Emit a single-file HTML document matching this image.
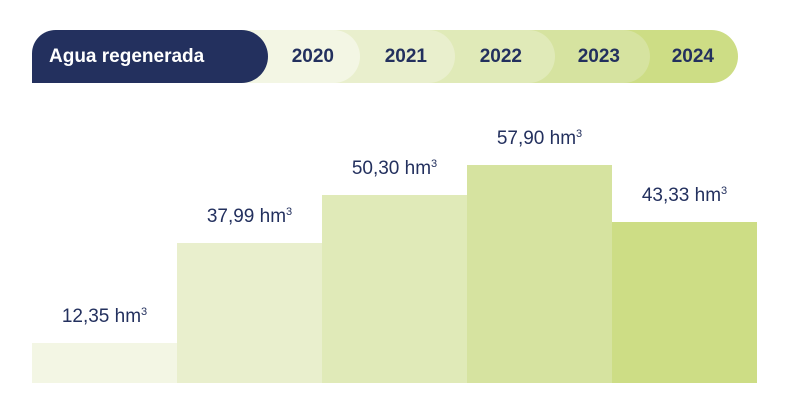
<!DOCTYPE html>
<html><head><meta charset="utf-8"><style>
body{margin:0;width:786px;height:412px;background:#fff;font-family:"Liberation Sans",sans-serif;overflow:hidden}
#wrap{position:relative;width:786px;height:412px}
.seg{position:absolute;top:30px;height:53px;border-radius:0 27px 27px 0;color:#23305e;font-weight:bold;font-size:19px;line-height:53px;text-align:right;box-sizing:border-box}
.bar{position:absolute}
.lbl{position:absolute;width:145px;text-align:center;font-size:19px;color:#23305e}
sup{font-size:11px;vertical-align:7px}
</style></head><body><div id="wrap">
<div class="seg" style="left:600px;width:138px;background:#cddd85;padding-right:24px;z-index:1">2024</div>
<div class="seg" style="left:500px;width:150px;background:#d6e3a0;padding-right:30px;z-index:2">2023</div>
<div class="seg" style="left:400px;width:155px;background:#e0eab8;padding-right:33px;z-index:3">2022</div>
<div class="seg" style="left:300px;width:155px;background:#e9efcd;padding-right:28px;z-index:4">2021</div>
<div class="seg" style="left:240px;width:120px;background:#f3f6e4;padding-right:26px;z-index:5">2020</div>
<div class="seg" style="left:32px;width:236px;background:#23305e;color:#fff;text-align:left;padding-left:17px;border-radius:24px 27px 27px 0;z-index:6">Agua regenerada</div>
</div>
<script>
const categories=["2020","2021","2022","2023","2024"];
const values=[12.35,37.99,50.30,57.90,43.33];
const labels=["12,35","37,99","50,30","57,90","43,33"];
const colors=["#f3f6e4","#e9efcd","#e0eab8","#d6e3a0","#cddd85"];
const wrap=document.getElementById('wrap');
const base=383,x0=32,bw=145;
function yScale(v){return v*3.9-8;}
values.forEach((v,i)=>{
 const h=yScale(v);
 const b=document.createElement('div');
 b.className='bar';
 
 
 b.style.cssText=`left:${x0+i*bw}px;width:${bw}px;top:${base-h}px;height:${h}px;background:${colors[i]}`;
 wrap.appendChild(b);
 const l=document.createElement('div');
 l.className='lbl';
 
 
 l.style.left=(x0+i*bw)+'px';
 l.style.top=(base-h-37)+'px';
 l.innerHTML=labels[i]+' hm<sup>3</sup>';
 wrap.appendChild(l);
});
</script></body></html>
